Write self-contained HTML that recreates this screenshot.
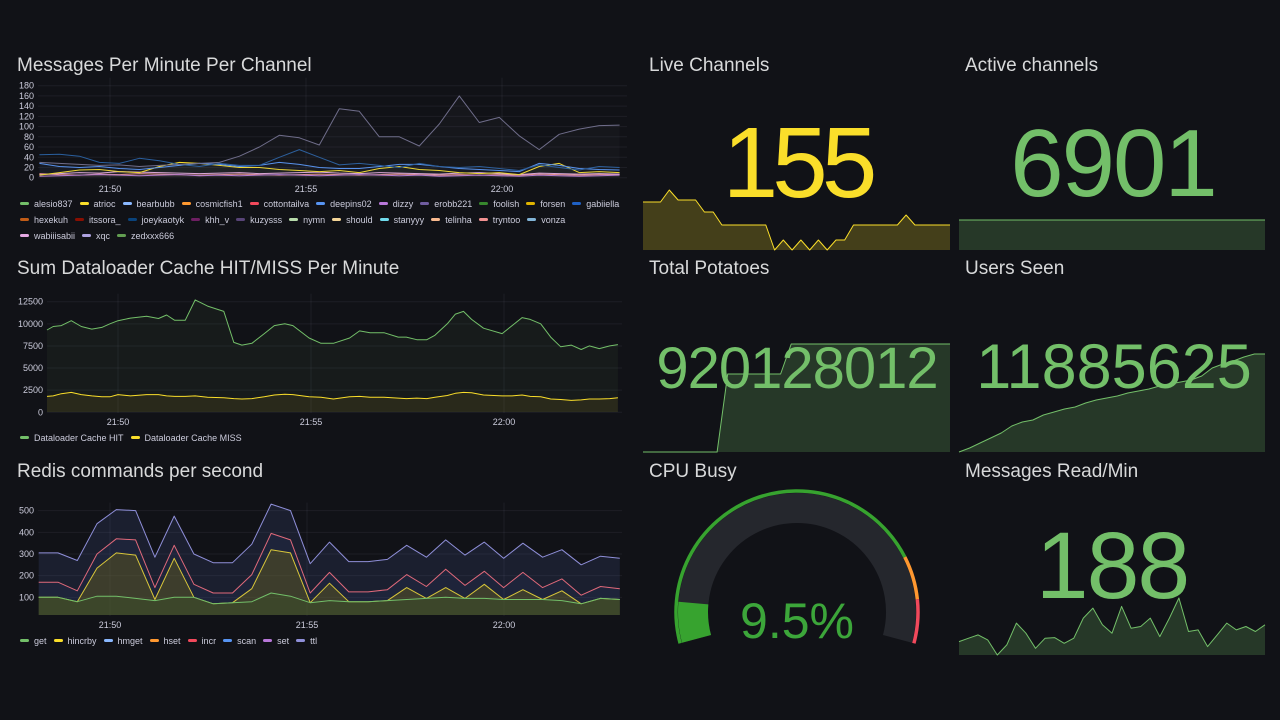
<!DOCTYPE html>
<html><head><meta charset="utf-8">
<style>
html,body{margin:0;padding:0;background:#111217;width:1280px;height:720px;overflow:hidden;font-family:"Liberation Sans",sans-serif;}
.leg{position:absolute;display:flex;flex-wrap:wrap;font-size:9px;color:#ccccdc;row-gap:0;}
.li{display:flex;align-items:center;margin-right:7px;height:11px;margin-bottom:5px}
.li i{display:inline-block;width:9px;height:3px;border-radius:2px;margin-right:5px}
.br{flex-basis:100%;height:0}
</style></head>
<body>
<svg id="s" width="1280" height="720" xmlns="http://www.w3.org/2000/svg" style="position:absolute;left:0;top:0">
<g font-family="Liberation Sans, sans-serif" font-size="19" fill="#d8d9da">
<text x="17" y="71">Messages Per Minute Per Channel</text>
<text x="17" y="274">Sum Dataloader Cache HIT/MISS Per Minute</text>
<text x="17" y="477">Redis commands per second</text>
<text x="649" y="71">Live Channels</text>
<text x="965" y="71">Active channels</text>
<text x="649" y="274">Total Potatoes</text>
<text x="965" y="274">Users Seen</text>
<text x="649" y="477">CPU Busy</text>
<text x="965" y="477">Messages Read/Min</text>
</g>
<g id="c1"></g>
<g id="c2"></g>
<g id="c3"></g>
<g id="stats"></g>
</svg>
<div class="leg" style="left:20px;top:198px;width:640px" id="leg1"></div>
<div class="leg" style="left:20px;top:432px;width:620px" id="leg2"></div>
<div class="leg" style="left:20px;top:635px;width:620px" id="leg3"></div>
<script>
// ---------- Chart 1 data ----------
const c1Names=["alesio837","atrioc","bearbubb","cosmicfish1","cottontailva","deepins02","dizzy","erobb221","foolish","forsen","gabiiella","hexekuh","itssora_","joeykaotyk","khh_v","kuzysss","nymn","should","stanyyy","telinha","tryntoo","vonza","wabiiisabii","xqc","zedxxx666"];
const c1Colors=["#73BF69","#FADE2A","#8AB8FF","#FF9830","#F2495C","#5794F2","#B877D9","#705DA0","#37872D","#E0B400","#1F60C4","#C15C17","#890F02","#0A437C","#6D1F62","#584477","#B7DBAB","#F4D598","#70DBED","#F9BA8F","#F29191","#82B5D8","#E5A8E2","#AEA2E0","#629E51"];
const c1Times=[-1.8,-1.29,-0.78,-0.27,0.24,0.75,1.26,1.77,2.28,2.79,3.3,3.81,4.32,4.83,5.34,5.85,6.36,6.87,7.38,7.89,8.4,8.91,9.42,9.93,10.44,10.95,11.46,11.97,12.48,13.0];
const c1Gray=[30,28,26,24,25,22,24,26,28,30,42,60,83,78,64,135,130,80,80,62,105,160,108,118,82,55,85,95,102,103];
const c1Joey=[45,46,42,30,28,38,33,26,22,28,24,24,40,55,40,25,28,24,20,28,22,20,22,18,14,25,20,15,22,20];
const c1Deep=[28,22,20,22,18,16,20,24,28,26,22,24,30,26,20,18,18,22,26,26,22,18,16,14,12,28,24,18,16,15];
const c1Atrioc=[5,10,15,16,12,10,22,30,28,24,20,20,16,14,12,14,10,18,22,16,14,10,8,10,6,22,28,10,12,10];
const c1Low1=[6,8,10,9,12,11,10,9,8,9,10,8,9,10,11,9,8,10,9,8,7,9,10,8,6,9,8,7,8,7];
const c1Low2=[3,4,5,6,5,4,5,6,4,5,4,5,6,5,4,5,6,5,4,5,3,4,5,4,3,5,4,3,4,5];
const c1Low3=[8,6,5,7,6,8,7,6,5,6,7,6,5,6,7,6,5,6,7,6,5,6,5,6,5,7,6,5,6,6];
const c1Ticks=[0,20,40,60,80,100,120,140,160,180];
// ---------- Chart 2 data ----------
const c2Times=[-1.84,-1.68,-1.47,-1.21,-0.95,-0.68,-0.42,-0.21,0,0.32,0.74,1.05,1.26,1.47,1.74,2.0,2.32,2.74,3.0,3.21,3.47,3.79,4.05,4.32,4.53,4.95,5.26,5.58,6.0,6.26,6.53,6.89,7.26,7.47,7.74,8.0,8.21,8.53,8.74,8.95,9.16,9.47,9.95,10.21,10.47,10.68,10.95,11.21,11.47,11.74,12.0,12.21,12.47,12.74,12.95];
const c2Hit=[9300,9700,9800,10350,9700,9400,9600,10000,10350,10650,10850,10600,11000,10400,10400,12700,12000,11400,7900,7600,7800,8900,9800,10000,9800,8400,7800,7800,8400,9200,9000,9000,8500,8500,8200,8200,8700,10000,11100,11400,10500,9500,8900,9800,10700,10500,10000,8500,7400,7600,7100,7500,7200,7500,7650];
const c2Miss=[1800,1850,2100,2250,2000,1850,1750,1750,2000,1850,2000,2000,1850,1800,1800,1850,1700,1650,1550,1500,1550,1750,1950,2050,2000,1750,1700,1500,1750,1800,1700,1700,1600,1550,1600,1550,1700,1900,2150,2250,2200,1950,1850,1850,1950,1800,1750,1500,1450,1350,1400,1500,1500,1550,1650];
const c2Ticks=[0,2500,5000,7500,10000,12500];
// ---------- Chart 3 data ----------
const c3Times=[-1.81,-1.32,-0.83,-0.33,0.16,0.65,1.14,1.63,2.13,2.62,3.11,3.6,4.09,4.58,5.08,5.57,6.06,6.55,7.04,7.53,8.03,8.52,9.01,9.5,9.99,10.48,10.98,11.47,11.96,12.45,12.94];
const c3Ttl=[305,305,270,440,505,500,285,475,300,260,260,345,530,500,255,355,265,265,275,340,285,365,295,355,280,350,285,320,250,290,280];
const c3Incr=[170,170,130,300,370,365,145,340,160,120,120,205,395,365,120,215,125,125,135,205,150,230,155,220,145,215,145,185,110,150,140];
const c3Hincrby=[100,100,80,235,305,295,90,280,100,70,75,140,320,305,75,165,80,80,85,145,95,145,95,160,90,135,90,130,70,95,90];
const c3Get=[100,100,80,105,105,95,85,100,100,70,75,80,120,105,75,85,80,80,85,90,95,100,95,95,90,90,90,85,70,95,90];
const c3Ticks=[100,200,300,400,500];
const c3Names=["get","hincrby","hmget","hset","incr","scan","set","ttl"];
const c3Colors=["#73BF69","#FADE2A","#8AB8FF","#FF9830","#F2495C","#5794F2","#B877D9","#8F8FD9"];
const xTickLabels=["21:50","21:55","22:00"];
const xTickMins=[0,5,10];
// ---------- Stat data ----------
const liveVals=[48,48,48,60,50,50,50,38,38,25,25,25,25,25,25,0,10,0,10,0,10,0,10,10,25,25,25,25,25,25,35,25,25,25,25,25];
const activeVals=[30,30,30,30,30,30,30,30,30,30,30,30,30,30,30,30,30,30,30,30];
const potatoVals=[0,0,0,0,0,0,0,0,78,78,78,78,78,78,108,108,108,108,108,108,108,108,108,108,108,108,108,108,108,108];
const usersVals=[0,4,9,14,19,26,30,32,37,40,43,45,49,52,54,56,59,61,63,66,68,70,72,76,84,88,91,95,98,98];
const msgVals=[40,50,60,45,0,30,95,65,20,50,52,35,50,110,140,90,65,145,80,85,110,55,110,170,70,75,25,60,95,75,85,70,90];
const cpuValue=9.5;

const NS="http://www.w3.org/2000/svg";
function mk(parent,tag,attrs){const e=document.createElementNS(NS,tag);for(const k in attrs)e.setAttribute(k,attrs[k]);parent.appendChild(e);return e;}
function pathD(xs,ys){return xs.map((x,i)=>(i?'L':'M')+x.toFixed(1)+' '+ys[i].toFixed(1)).join(' ');}

function axes(g,x0,x1,xOf,yOf,ticks,labelX,xLabY){
  ticks.forEach(t=>{
    const y=yOf(t);
    const l=mk(g,'line',{x1:x0,x2:x1,y1:y,y2:y,stroke:'rgba(204,204,220,0.07)','stroke-width':1});
    
    
    const tx=mk(g,'text',{x:labelX,y:y+3,'text-anchor':'end','font-size':9,fill:'#ccccdc'});
    tx.textContent=t;
    
    
  });
  xTickMins.forEach((m,i)=>{
    const x=xOf(m);
    const l=mk(g,'line',{x1:x,x2:x,y1:yOf(ticks[ticks.length-1])-8,y2:xLabY-12,stroke:'rgba(204,204,220,0.07)','stroke-width':1});
    
    
    const tx=mk(g,'text',{x:x,y:xLabY,'text-anchor':'middle','font-size':9,fill:'#ccccdc'});
    tx.textContent=xTickLabels[i];
    
    
  });
}
function series(g,times,vals,xOf,yOf,color,base,fill,name){
  const xs=times.map(xOf),ys=vals.map(yOf);
  if(fill){
    const a=mk(g,'path',{d:pathD(xs,ys)+` L${xs[xs.length-1]} ${base} L${xs[0]} ${base} Z`,fill:fill});
    
    
  }
  const p=mk(g,'path',{d:pathD(xs,ys),fill:'none',stroke:color,'stroke-width':1,'stroke-linejoin':'round'});
  
  
}
function legend(id,names,colors,breaks){
  const el=document.getElementById(id);
  names.forEach((n,i)=>{
    if(breaks&&breaks.includes(i)){const b=document.createElement('div');b.className='br';el.appendChild(b);}
    const d=document.createElement('div');d.className='li';
    
    
    d.innerHTML='<i style="background:'+colors[i]+'"></i>'+n;
    el.appendChild(d);
  });
}

// Chart 1
(function(){
  const g=document.getElementById('c1');
  const xOf=t=>110+t*39.2, yOf=v=>177.7-v*92/180;
  axes(g,38,627,xOf,yOf,c1Ticks,34,192);
  series(g,c1Times,c1Low3,xOf,yOf,'#F29191',177,'rgba(242,145,145,0.05)','tryntoo');
  series(g,c1Times,c1Low2,xOf,yOf,'#B877D9',177,null,'dizzy');
  series(g,c1Times,c1Low1,xOf,yOf,'#E5A8E2',177,null,'wabiiisabii');
  series(g,c1Times,c1Atrioc,xOf,yOf,'#FADE2A',177,'rgba(250,222,42,0.04)','atrioc');
  series(g,c1Times,c1Deep,xOf,yOf,'#5794F2',177,'rgba(87,148,242,0.04)','deepins02');
  series(g,c1Times,c1Joey,xOf,yOf,'#2a5f9e',177,null,'joeykaotyk');
  series(g,c1Times,c1Gray,xOf,yOf,'#6f6d8a',177,'rgba(111,109,138,0.05)','kuzysss');
  legend('leg1',c1Names,c1Colors,[11,22]);
})();
// Chart 2
(function(){
  const g=document.getElementById('c2');
  const xOf=t=>118+t*38.6, yOf=v=>412.3-v*110.6/12500;
  axes(g,47,622,xOf,yOf,c2Ticks,43,425);
  series(g,c2Times,c2Hit,xOf,yOf,'#73BF69',412,'rgba(115,191,105,0.06)','cache-hit');
  series(g,c2Times,c2Miss,xOf,yOf,'#FADE2A',412,'rgba(250,222,42,0.08)','cache-miss');
  legend('leg2',['Dataloader Cache HIT','Dataloader Cache MISS'],['#73BF69','#FADE2A']);
})();
// Chart 3
(function(){
  const g=document.getElementById('c3');
  const xOf=t=>110+t*39.4, yOf=v=>619-v*0.2167;
  axes(g,38,622,xOf,yOf,c3Ticks,34,628);
  series(g,c3Times,c3Ttl,xOf,yOf,'#8F8FD9',615,'rgba(100,120,210,0.13)','ttl');
  series(g,c3Times,c3Incr,xOf,yOf,'#E0697A',615,'rgba(40,50,90,0.25)','incr');
  series(g,c3Times,c3Hincrby,xOf,yOf,'#D8C63A',615,'rgba(120,110,20,0.35)','hincrby');
  series(g,c3Times,c3Get,xOf,yOf,'#73BF69',615,'rgba(60,90,40,0.35)','get');
  legend('leg3',c3Names,c3Colors);
})();

// Stats
const st=document.getElementById('stats');
function spark(vals,x0,x1,base,scale,color,fill,name){
  const xs=vals.map((v,i)=>x0+i*(x1-x0)/(vals.length-1));
  series(st,xs,vals,(t)=>t,v=>base-v*scale,color,base,fill,name);
}
spark(liveVals,643,950,250,1,'#FADE2A','rgba(250,222,42,0.22)','live-channels-spark');
spark(activeVals,959,1265,250,1,'#73BF69','rgba(115,191,105,0.22)','active-channels-spark');
spark(potatoVals,643,950,452,1,'#73BF69','rgba(115,191,105,0.22)','potatoes-spark');
spark(usersVals,959,1265,452,1,'#73BF69','rgba(115,191,105,0.22)','users-spark');
spark(msgVals,959,1265,655,57/170,'#73BF69','rgba(115,191,105,0.22)','messages-spark');

function bigText(x,y,size,txt,color,name,ls){
  const t=mk(st,'text',{x:x,y:y,'text-anchor':'middle','font-size':size,fill:color,'letter-spacing':ls||0});
  t.textContent=txt;
  
  
}
bigText(797,197,100,'155','#FADE2A','live-channels-value',-6);
bigText(1113,196,96,'6901','#73BF69','active-channels-value',-2);
bigText(797,388,58,'920128012','#73BF69','total-potatoes-value',-1);
bigText(1114,388,63,'11885625','#73BF69','users-seen-value',0);
bigText(1112,598,95,'188','#73BF69','messages-read-value',-2);

// Gauge
(function(){
  const cx=797,cy=612,a0=-105,a1=105;
  const pt=(r,a)=>{const rad=a*Math.PI/180;return [cx+r*Math.sin(rad),cy-r*Math.cos(rad)];};
  function arc(r,s,e,color,w,name){
    const p0=pt(r,s),p1=pt(r,e);const large=(e-s)>180?1:0;
    const p=mk(st,'path',{d:`M${p0[0]} ${p0[1]} A${r} ${r} 0 ${large} 1 ${p1[0]} ${p1[1]}`,fill:'none',stroke:color,'stroke-width':w});
    
    
  }
  const span=a1-a0;
  arc(104,a0,a1,'#25272d',30,'gauge-track');
  arc(104,a0,a0+span*cpuValue/100,'#37a32f',30,'gauge-value');
  arc(121,a0,a0+span*0.8,'#37a32f',3.5,'gauge-threshold-green');
  arc(121,a0+span*0.8,a0+span*0.9,'#FF9830',3.5,'gauge-threshold-orange');
  arc(121,a0+span*0.9,a1,'#F2495C',3.5,'gauge-threshold-red');
  bigText(797,638,50,cpuValue+'%','#3ca63a','cpu-busy-value',0);
})();
</script>
</body></html>
